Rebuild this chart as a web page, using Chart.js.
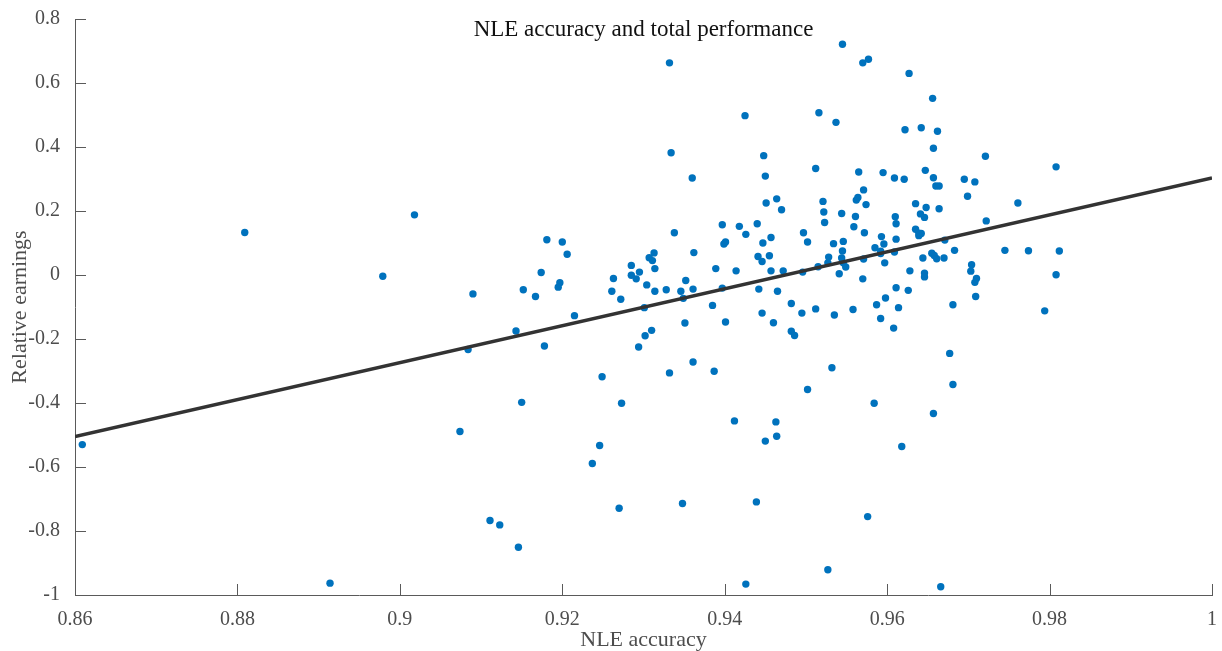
<!DOCTYPE html>
<html>
<head>
<meta charset="utf-8">
<title>NLE accuracy and total performance</title>
<script src="https://cdn.jsdelivr.net/npm/chart.js@4.4.1/dist/chart.umd.min.js"></script>
<style>
  html, body { margin: 0; padding: 0; background: #fff; }
  #chart { display: block; }
</style>
</head>
<body>
<canvas id="chart" width="1222" height="651"></canvas>
<script>
// NLE accuracy (x) and relative earnings (y), one entry per participant
const nleAccuracy = [
  0.8609, 0.8809, 0.8914, 0.8979, 0.9018, 0.9074, 0.9084, 0.9090, 0.9111, 0.9123,
  0.9143, 0.9146, 0.9150, 0.9152, 0.9167, 0.9174, 0.9178, 0.9181, 0.9197, 0.9195,
  0.9200, 0.9206, 0.9215, 0.9237, 0.9246, 0.9249, 0.9261, 0.9263, 0.9270, 0.9272,
  0.9273, 0.9285, 0.9285, 0.9291, 0.9295, 0.9294, 0.9301, 0.9302, 0.9304, 0.9307,
  0.9311, 0.9310, 0.9313, 0.9314, 0.9314, 0.9328, 0.9332, 0.9332, 0.9334, 0.9338,
  0.9346, 0.9349, 0.9352, 0.9351, 0.9348, 0.9360, 0.9361, 0.9362, 0.9361, 0.9385,
  0.9387, 0.9389, 0.9397, 0.9397, 0.9399, 0.9401, 0.9401, 0.9412, 0.9414, 0.9418,
  0.9425, 0.9426, 0.9426, 0.9439, 0.9440, 0.9441, 0.9442, 0.9446, 0.9447, 0.9446,
  0.9448, 0.9450, 0.9451, 0.9450, 0.9455, 0.9457, 0.9457, 0.9460, 0.9463, 0.9464,
  0.9464, 0.9470, 0.9465, 0.9472, 0.9482, 0.9482, 0.9486, 0.9495, 0.9497, 0.9496,
  0.9502, 0.9502, 0.9512, 0.9516, 0.9515, 0.9512, 0.9521, 0.9522, 0.9523, 0.9528,
  0.9527, 0.9527, 0.9532, 0.9534, 0.9535, 0.9537, 0.9541, 0.9544, 0.9545, 0.9546,
  0.9545, 0.9544, 0.9546, 0.9549, 0.9558, 0.9559, 0.9561, 0.9562, 0.9564, 0.9565,
  0.9571, 0.9574, 0.9572, 0.9571, 0.9570, 0.9570, 0.9577, 0.9576, 0.9584, 0.9585,
  0.9587, 0.9593, 0.9592, 0.9592, 0.9596, 0.9597, 0.9595, 0.9598, 0.9592, 0.9608,
  0.9609, 0.9610, 0.9611, 0.9611, 0.9609, 0.9611, 0.9614, 0.9618, 0.9621, 0.9622,
  0.9627, 0.9626, 0.9628, 0.9635, 0.9635, 0.9639, 0.9642, 0.9639, 0.9642, 0.9641,
  0.9646, 0.9648, 0.9647, 0.9644, 0.9646, 0.9646, 0.9655, 0.9658, 0.9661, 0.9656,
  0.9657, 0.9662, 0.9657, 0.9660, 0.9664, 0.9664, 0.9671, 0.9670, 0.9681, 0.9677,
  0.9681, 0.9657, 0.9666, 0.9683, 0.9695, 0.9699, 0.9708, 0.9704, 0.9703, 0.9710,
  0.9708, 0.9709, 0.9721, 0.9722, 0.9745, 0.9761, 0.9774, 0.9794, 0.9808, 0.9808,
  0.9812
];
const relativeEarnings = [
  -0.530, 0.133, -0.963, -0.004, 0.188, -0.489, -0.233, -0.059, -0.767, -0.781,
  -0.175, -0.851, -0.398, -0.046, -0.067, 0.008, -0.222, 0.110, -0.024, -0.038,
  0.103, 0.065, -0.127, -0.589, -0.533, -0.318, -0.051, -0.011, -0.729, -0.076,
  -0.401, 0.030, -0.001, -0.012, 0.009, -0.225, -0.102, -0.190, -0.031, 0.054,
  0.045, -0.173, 0.069, 0.020, -0.051, -0.046, -0.306, 0.663, 0.382, 0.132,
  -0.051, -0.073, -0.017, -0.150, -0.714, 0.303, -0.044, 0.070, -0.272, -0.095,
  -0.301, 0.020, 0.157, -0.041, 0.097, 0.103, -0.147, -0.456, 0.013, 0.152,
  0.498, 0.127, -0.966, -0.709, 0.160, 0.058, -0.044, 0.042, 0.100, -0.119,
  0.373, 0.309, 0.225, -0.519, 0.060, 0.117, 0.013, -0.149, -0.459, -0.504,
  0.238, 0.204, -0.051, 0.013, -0.089, -0.176, -0.189, -0.119, 0.132, 0.009,
  0.103, -0.358, 0.333, 0.507, 0.026, -0.106, 0.230, 0.197, 0.164, 0.056,
  0.038, -0.921, -0.290, 0.098, -0.125, 0.477, 0.004, 0.192, 0.721, 0.105,
  0.075, 0.053, 0.038, 0.025, -0.108, 0.151, 0.183, 0.234, 0.242, 0.322,
  0.266, 0.220, 0.132, 0.050, -0.012, 0.663, 0.674, -0.755, -0.401, 0.085,
  -0.093, 0.120, 0.074, 0.067, 0.097, 0.038, 0.320, -0.072, -0.136, -0.166,
  0.303, 0.182, 0.160, 0.112, 0.072, -0.040, -0.102, -0.536, 0.299, 0.454,
  0.630, -0.048, 0.013, 0.223, 0.143, 0.131, 0.130, 0.123, 0.460, 0.191,
  0.180, 0.211, 0.327, 0.053, 0.006, -0.006, 0.068, 0.061, 0.051, 0.552,
  0.396, 0.449, 0.304, 0.278, 0.278, 0.207, 0.109, 0.053, -0.093, -0.245,
  -0.342, -0.433, -0.974, 0.077, 0.299, 0.246, 0.291, 0.032, 0.012, -0.011,
  -0.023, -0.067, 0.371, 0.169, 0.077, 0.225, 0.076, -0.112, 0.001, 0.338,
  0.075
];

// least squares line, read at both ends of the x axis
const fitX = [0.86, 1.0];
const fitY = [-0.505, 0.303];

const xTicks = [0.86, 0.88, 0.90, 0.92, 0.94, 0.96, 0.98, 1.0];
const yTicks = [-1, -0.8, -0.6, -0.4, -0.2, 0, 0.2, 0.4, 0.6, 0.8];

const axisColor = '#5a5a5a';
const labelColor = '#4d4d4d';
const serif = "'Liberation Serif', 'Times New Roman', serif";

const fmt = (v) => String(+Number(v).toFixed(2));

// MATLAB style: tick marks point into the axes, title sits inside the plot
const innerTicks = {
    id: 'innerTicks',
    afterDraw(chart) {
        const { ctx, chartArea, scales } = chart;
        const len = 11;
        ctx.save();
        ctx.strokeStyle = axisColor;
        ctx.lineWidth = 1;
        ctx.beginPath();
        xTicks.forEach(v => {
            const px = Math.round(scales.x.getPixelForValue(v)) + 0.5;
            ctx.moveTo(px, chartArea.bottom);
            ctx.lineTo(px, chartArea.bottom - len);
        });
        yTicks.forEach(v => {
            const py = Math.round(scales.y.getPixelForValue(v)) + 0.5;
            ctx.moveTo(chartArea.left, py);
            ctx.lineTo(chartArea.left + len, py);
        });
        ctx.stroke();

        ctx.fillStyle = '#111';
        ctx.font = `23px ${serif}`;
        ctx.textAlign = 'center';
        ctx.textBaseline = 'middle';
        ctx.fillText('NLE accuracy and total performance', (chartArea.left + chartArea.right) / 2, chartArea.top + 11);
        ctx.restore();
    }
};

const ctx = document.getElementById('chart').getContext('2d');
const chart = new Chart(ctx, {
    type: 'scatter',
    data: {
        datasets: [
            {
                type: 'line',
                data: fitX.map((x, i) => ({ x, y: fitY[i] })),
                borderColor: '#333333',
                borderWidth: 3.5,
                pointRadius: 0,
                fill: false,
                order: 0
            },
            {
                data: nleAccuracy.map((x, i) => ({ x, y: relativeEarnings[i] })),
                backgroundColor: '#0072BD',
                borderWidth: 0,
                pointRadius: 3.7,
                order: 1
            }
        ]
    },
    options: {
        responsive: false,
        animation: false,
        layout: { padding: { top: 19, right: 4, left: 0, bottom: 0 } },
        plugins: {
            legend: { display: false },
            tooltip: { enabled: false }
        },
        scales: {
            x: {
                type: 'linear',
                min: 0.86,
                max: 1,
                afterBuildTicks: (scale) => { scale.ticks = xTicks.map(v => ({ value: v })); },
                afterFit: (scale) => { scale.height = 56; },
                grid: { display: false },
                border: { display: true, color: axisColor, width: 1 },
                ticks: {
                    callback: (v) => fmt(v),
                    color: labelColor,
                    font: { family: serif, size: 20 },
                    padding: 5,
                    maxRotation: 0,
                    autoSkip: false
                },
                title: {
                    display: true,
                    text: 'NLE accuracy',
                    color: labelColor,
                    font: { family: serif, size: 22, lineHeight: 1 },
                    padding: { top: 0, bottom: 0 }
                }
            },
            y: {
                min: -1,
                max: 0.8,
                afterBuildTicks: (scale) => { scale.ticks = yTicks.map(v => ({ value: v })); },
                afterFit: (scale) => { scale.width = 75; },
                grid: { display: false },
                border: { display: true, color: axisColor, width: 1 },
                ticks: {
                    callback: (v) => fmt(v),
                    color: labelColor,
                    font: { family: serif, size: 20 },
                    padding: 7,
                    autoSkip: false
                },
                title: {
                    display: true,
                    text: 'Relative earnings',
                    color: labelColor,
                    font: { family: serif, size: 22, lineHeight: 1 },
                    padding: { top: 9, bottom: 0 }
                }
            }
        }
    },
    plugins: [innerTicks]
});
</script>
</body>
</html>
